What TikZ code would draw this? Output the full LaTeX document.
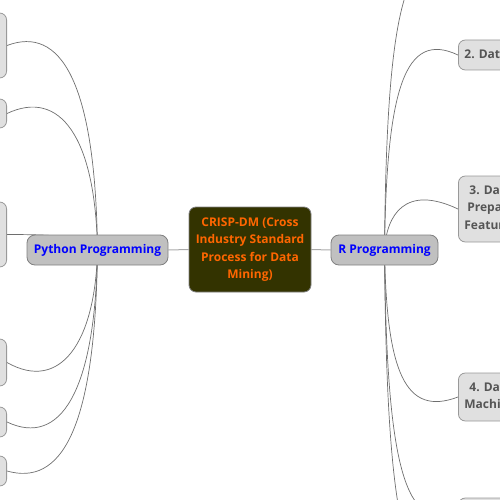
\documentclass[tikz,border=0pt]{standalone}
\usepackage{fontspec}
\setmainfont{Open Sans}
\pgfdeclarelayer{bg}
\pgfsetlayers{bg,main}
\definecolor{olive}{RGB}{51,51,0}
\definecolor{orangetxt}{RGB}{255,102,0}
\definecolor{bluetxt}{RGB}{0,0,255}
\definecolor{topicfill}{RGB}{192,192,192}
\definecolor{subfill}{RGB}{224,224,224}
\definecolor{subtxt}{RGB}{85,85,85}
\definecolor{bordergray}{RGB}{128,128,128}
\definecolor{curvegray}{RGB}{110,110,110}
\definecolor{linegray}{RGB}{170,170,170}
\tikzset{
  centerbox/.style={draw=bordergray, line width=0.8pt, fill=olive, rounded corners=7pt,
    text=orangetxt, font=\fontsize{12}{17.5}\selectfont\bfseries, align=center,
    minimum width=122pt, minimum height=85pt, inner sep=0pt},
  mainbox/.style={draw=bordergray, line width=0.8pt, fill=topicfill, rounded corners=8pt,
    text=bluetxt, font=\fontsize{12}{17.5}\selectfont\bfseries,
    minimum height=30pt, inner sep=0pt},
  subbox/.style={draw=bordergray!80, line width=0.8pt, fill=subfill, rounded corners=7pt,
    text=subtxt, font=\fontsize{12}{17.5}\selectfont\bfseries, align=left,
    inner xsep=6pt, inner ysep=0pt},
  curve/.style={draw=curvegray, line width=0.7pt},
  straight/.style={draw=linegray, line width=1pt}
}
\begin{document}
\begin{tikzpicture}[x=1pt,y=-1pt]
\useasboundingbox (0,0) rectangle (500,500);
\clip (0,0) rectangle (500,500);
% central and main topics
\node[centerbox] (c) at (250,249.5) {CRISP-DM (Cross\\Industry Standard\\Process for Data\\Mining)};
\node[mainbox, minimum width=141pt] (py) at (97.5,250) {Python Programming};
\node[mainbox, minimum width=107pt] (r) at (384.5,250) {R Programming};
% left subtopics (text outside view)
\node[subbox, anchor=east, minimum width=110pt, minimum height=65pt] (l1) at (7,45.5) {};
\node[subbox, anchor=east, minimum width=110pt, minimum height=29pt] (l2) at (7,113.5) {};
\node[subbox, anchor=east, minimum width=110pt, minimum height=65pt] (l3) at (7,234.5) {};
\node[subbox, anchor=east, minimum width=110pt, minimum height=47pt] (l4) at (7,362.5) {};
\node[subbox, anchor=east, minimum width=110pt, minimum height=30pt] (l5) at (7,422) {};
\node[subbox, anchor=east, minimum width=110pt, minimum height=30pt] (l6) at (7,471) {};
% right subtopics
\node[subbox, anchor=west, minimum height=30pt] (r1) at (458,-40) {1. Business Understanding};
\node[subbox, anchor=west, minimum height=30pt] (r2) at (458,55) {2. Data Understanding};
\node[subbox, anchor=west, minimum height=66pt] (r3) at (458,209)
  {\hspace*{5pt}3. Data\\\hspace*{3pt}Preparation \&\\Feature Engineering};
\node[subbox, anchor=west, minimum height=48pt] (r4) at (458,397)
  {\hspace*{5pt}4. Data Modeling\\Machine Learning};
\node[subbox, anchor=west, minimum height=30pt] (r5) at (458,513) {5. Evaluation};
\node[subbox, anchor=west, minimum height=30pt] (r6) at (458,580) {6. Deployment};
\begin{pgfonlayer}{bg}
  \draw[straight] (py.east) -- (c.west);
  \draw[straight] (c.east) -- (r.west);
  \draw[curve] (py.center) .. controls +(-2,-170) and +(53,-20) .. (l1.east);
  \draw[curve] (py.center) .. controls +(-2,-113) and +(53,-25) .. (l2.east);
  \draw[curve] (py.center) .. controls +(-2,-13) and +(53,0) .. (l3.east);
  \draw[curve] (py.center) .. controls +(-2,93) and +(53,30) .. (l4.east);
  \draw[curve] (py.center) .. controls +(-2,143) and +(53,25) .. (l5.east);
  \draw[curve] (py.center) .. controls +(-2,183) and +(53,15) .. (l6.east);
  \draw[curve] (r.center) .. controls +(2,-241) and +(-53,-20) .. (r1.west);
  \draw[curve] (r.center) .. controls +(2,-162) and +(-53,-25) .. (r2.west);
  \draw[curve] (r.center) .. controls +(2,-35) and +(-53,-25) .. (r3.west);
  \draw[curve] (r.center) .. controls +(2,122) and +(-53,20) .. (r4.west);
  \draw[curve] (r.center) .. controls +(2,218) and +(-53,20) .. (r5.west);
  \draw[curve] (r.center) .. controls +(2,274) and +(-53,20) .. (r6.west);
\end{pgfonlayer}
\end{tikzpicture}
\end{document}
